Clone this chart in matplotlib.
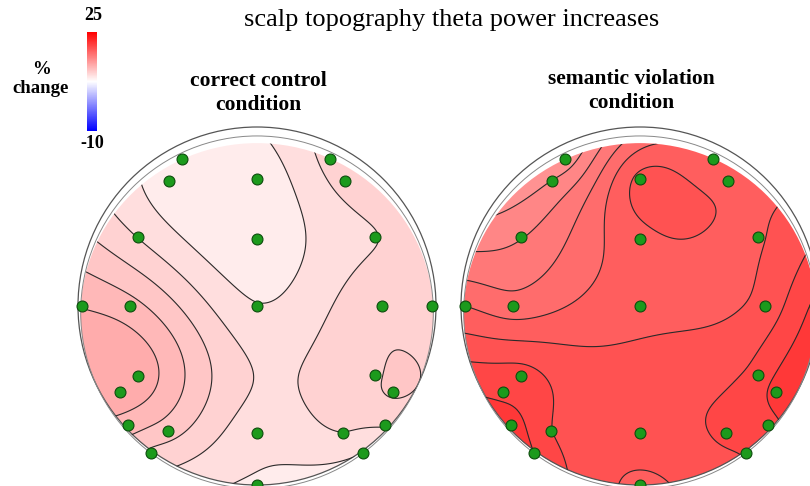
import numpy as np
import matplotlib
matplotlib.use("Agg")
import matplotlib.pyplot as plt
from matplotlib.patches import Circle, Ellipse
from matplotlib import cm, colors

# ----------------------------
# DATA
# ----------------------------
# electrode positions, top view, head radius = 1
elec_x = [-0.42, 0.41, -0.49, 0.0, 0.49, -0.665, 0.0, 0.66, -0.98, -0.71, 0.0, 0.70, 0.98,
          -0.665, -0.765, 0.66, 0.76, -0.72, -0.50, 0.0, 0.48, 0.715, -0.59, 0.59, 0.0]
elec_y = [0.82, 0.82, 0.70, 0.71, 0.70, 0.385, 0.375, 0.385, 0.0, 0.0, 0.0, 0.0, 0.0,
          -0.39, -0.48, -0.385, -0.48, -0.665, -0.70, -0.71, -0.71, -0.665, -0.82, -0.82, -1.0]

# % change of theta power per electrode
control_pct = [8.8, 10.4, 8.8, 8.6, 10.4, 10.1, 8.6, 10.1, 12.7, 12.2, 9.3, 10.8, 10.4,
               13.3, 13.3, 10.9, 11.1, 12.3, 11.4, 9.6, 10.1, 10.2, 10.8, 9.3, 9.1]
violation_pct = [14.8, 18.1, 15.4, 19.1, 18.6, 16.2, 18.6, 18.8, 18.0, 17.5, 18.6, 19.2, 20.8,
                 20.1, 20.4, 20.1, 20.9, 21.0, 19.8, 19.4, 19.9, 20.3, 20.6, 19.8, 18.7]

panel_titles = [("correct control", "condition"), ("semantic violation", "condition")]
title = "scalp topography theta power increases"
cbar_min, cbar_max = -10, 25
n_levels = 41

# ----------------------------
# layout (pixels of the 810x486 picture)
# ----------------------------
W, H = 810, 486
head_r_px = 179
centers_px = [(257, 306), (640, 306)]
title_x_px = [258, 631]
title_base_px = [(86, 110), (84, 108)]
lim = 1.1


def thin_plate(xs, ys, vals, gx, gy):
    """thin plate spline through the electrode values"""
    pts = np.column_stack([xs, ys])
    n = len(pts)
    d = np.sqrt(((pts[:, None, :] - pts[None, :, :]) ** 2).sum(-1))
    with np.errstate(divide="ignore", invalid="ignore"):
        K = np.where(d > 0, d ** 2 * np.log(d), 0.0)
    P = np.column_stack([np.ones(n), pts])
    A = np.zeros((n + 3, n + 3))
    A[:n, :n] = K
    A[:n, n:] = P
    A[n:, :n] = P.T
    b = np.concatenate([vals, np.zeros(3)])
    sol = np.linalg.solve(A, b)
    w, a = sol[:n], sol[n:]
    g = np.column_stack([gx.ravel(), gy.ravel()])
    dg = np.sqrt(((g[:, None, :] - pts[None, :, :]) ** 2).sum(-1))
    with np.errstate(divide="ignore", invalid="ignore"):
        Kg = np.where(dg > 0, dg ** 2 * np.log(dg), 0.0)
    out = Kg @ w + a[0] + a[1] * g[:, 0] + a[2] * g[:, 1]
    return out.reshape(gx.shape)


def px_text(x, y, s, **kw):
    fig.text(x / W, 1 - y / H, s, family="Liberation Serif", **kw)


fig = plt.figure(figsize=(W / 100, H / 100), dpi=100)
fig.patch.set_facecolor("white")

norm = colors.Normalize(vmin=cbar_min, vmax=cbar_max)
cmap = plt.get_cmap("bwr")
levels = np.linspace(cbar_min, cbar_max, n_levels)

gx, gy = np.meshgrid(np.linspace(-lim, lim, 320), np.linspace(-lim, lim, 320))

for (cx, cy), tx, (b1, b2), vals, (line1, line2) in zip(
        centers_px, title_x_px, title_base_px, [control_pct, violation_pct], panel_titles):
    size = 2 * lim * head_r_px
    ax = fig.add_axes([(cx - size / 2) / W, (H - (cy + size / 2)) / H, size / W, size / H])
    ax.set_xlim(-lim, lim)
    ax.set_ylim(-lim, lim)
    ax.set_aspect("equal")
    ax.axis("off")

    z = thin_plate(elec_x, elec_y, np.array(vals, float), gx, gy)

    clip = Ellipse((0, -0.045), 2 * 0.985, 2 * 0.955, transform=ax.transData)
    cf = ax.contourf(gx, gy, z, levels=levels, cmap=cmap, norm=norm)
    cf.set_clip_path(clip)
    cl = ax.contour(gx, gy, z, levels=levels, colors="#2a2a2a", linewidths=0.8)
    cl.set_clip_path(clip)

    # head outline (double ring)
    ax.add_patch(Circle((0, 0), 1.0, fill=False, ec="#555555", lw=0.9))
    ax.add_patch(Circle((0, -0.035), 0.985, fill=False, ec="#888888", lw=0.7))

    ax.scatter(elec_x, elec_y, s=62, c="#1c9a1c", edgecolors="#0d4d0d",
               linewidths=0.8, zorder=5)

    px_text(tx, b1, line1, ha="center", va="baseline", weight="bold", fontsize=15.5)
    px_text(tx, b2, line2, ha="center", va="baseline", weight="bold", fontsize=15.5)

px_text(452, 20, title, ha="center", va="center", fontsize=19)

# colour bar
cax = fig.add_axes([87 / W, 1 - 131 / H, 10 / W, 99 / H])
cb = fig.colorbar(cm.ScalarMappable(norm=norm, cmap=cmap), cax=cax)
cb.set_ticks([])
cb.outline.set_visible(False)
px_text(93, 16, str(cbar_max), ha="center", va="center", weight="bold", fontsize=13)
px_text(92, 143, str(cbar_min), ha="center", va="center", weight="bold", fontsize=13)
px_text(41, 70, "%", ha="center", va="center", weight="bold", fontsize=13.5)
px_text(40.5, 93, "change", ha="center", va="baseline", weight="bold", fontsize=13.5)

fig.savefig("out.png", dpi=100)
